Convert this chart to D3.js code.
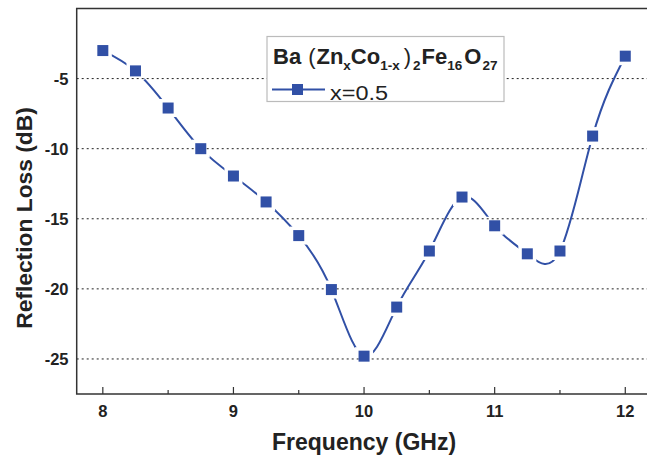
<!DOCTYPE html>
<html lang="en">
<head>
<meta charset="utf-8" />
<title>Reflection Loss</title>
<script src="https://cdnjs.cloudflare.com/ajax/libs/d3/7.8.5/d3.min.js"></script>
<style>
  body { margin: 0; background: #fff; }
  text { font-family: "Liberation Sans", Arial, sans-serif; }
</style>
</head>
<body>
<div id="chart"></div>
<script>
// data
var freq = [8, 8.25, 8.5, 8.75, 9, 9.25, 9.5, 9.75, 10, 10.25, 10.5, 10.75, 11, 11.25, 11.5, 11.75, 12];
var rl = [-3.0, -4.45, -7.1, -10.0, -11.95, -13.8, -16.2, -20.05, -24.8, -21.3, -17.3, -13.45, -15.5, -17.5, -17.3, -9.1, -3.4];
var xTicks = [8, 9, 10, 11, 12];
var xMinor = [8.5, 9.5, 10.5, 11.5];
var yTicks = [-5, -10, -15, -20, -25];
var seriesName = "x=0.5";
var blue = "#3150a6";

var W = 647, H = 461;
var svg = d3.select("#chart").append("svg")
    .attr("width", W).attr("height", H);

var x = d3.scaleLinear().domain([7.8, 12.2]).range([76.7, 651.4]);
var y = d3.scaleLinear().domain([0, -27.5]).range([8.5, 394]);

// dotted grid lines
svg.append("g").selectAll("line")
  .data(yTicks).enter().append("line")
    .attr("x1", x(7.8)).attr("x2", W)
    .attr("y1", function(d){ return y(d) }).attr("y2", function(d){ return y(d) })
    .attr("stroke", "#222").attr("stroke-width", 1)
    .attr("stroke-dasharray", "2,3");

// frame
svg.append("path")
  .attr("d", "M" + W + "," + y(0) + "H" + x(7.8) + "V" + y(-27.5) + "H" + W)
  .attr("fill", "none").attr("stroke", "#333").attr("stroke-width", 1.5);

// x axis ticks (inward)
var xAxis = svg.append("g").attr("transform", "translate(0," + y(-27.5) + ")");
xAxis.selectAll("line.major").data(xTicks).enter().append("line")
  .attr("x1", function(d){ return x(d) }).attr("x2", function(d){ return x(d) })
  .attr("y1", 0).attr("y2", -7).attr("stroke", "#333").attr("stroke-width", 1.2);
xAxis.selectAll("line.minor").data(xMinor).enter().append("line")
  .attr("x1", function(d){ return x(d) }).attr("x2", function(d){ return x(d) })
  .attr("y1", 0).attr("y2", -4).attr("stroke", "#333").attr("stroke-width", 1.2);
xAxis.selectAll("text").data(xTicks).enter().append("text")
  .attr("x", function(d){ return x(d) }).attr("y", 23)
  .attr("text-anchor", "middle").attr("font-size", 16.5).attr("font-weight", "bold")
  .attr("fill", "#222").text(function(d){ return d });

// y tick labels
svg.append("g").selectAll("text").data(yTicks).enter().append("text")
  .attr("x", 68.5).attr("y", function(d){ return y(d) + 6 })
  .attr("text-anchor", "end").attr("font-size", 16.5).attr("font-weight", "bold")
  .attr("fill", "#222").text(function(d){ return d });

// axis titles
svg.append("text").attr("x", x(10)).attr("y", 450)
  .attr("text-anchor", "middle").attr("font-size", 23).attr("font-weight", "bold")
  .attr("fill", "#222").text("Frequency (GHz)");
svg.append("text")
  .attr("transform", "translate(32,218) rotate(-90)")
  .attr("text-anchor", "middle").attr("font-size", 22.8).attr("font-weight", "bold")
  .attr("fill", "#222").text("Reflection Loss (dB)");

// line with gaps around the markers
var mask = svg.append("defs").append("mask").attr("id", "gaps");
mask.append("rect").attr("width", W).attr("height", H).attr("fill", "#fff");
mask.selectAll("rect.g").data(freq).enter().append("rect")
  .attr("x", function(d){ return x(d) - 9 }).attr("y", function(d, i){ return y(rl[i]) - 9 })
  .attr("width", 18).attr("height", 18).attr("fill", "#000");

var line = d3.line()
  .x(function(d, i){ return x(freq[i]) })
  .y(function(d, i){ return y(rl[i]) })
  .curve(d3.curveNatural);
svg.append("path").datum(rl)
  .attr("d", line).attr("fill", "none")
  .attr("stroke", blue).attr("stroke-width", 2)
  .attr("mask", "url(#gaps)");

svg.append("g").selectAll("rect").data(freq).enter().append("rect")
  .attr("x", function(d){ return x(d) - 5.5 }).attr("y", function(d, i){ return y(rl[i]) - 5.5 })
  .attr("width", 11).attr("height", 11).attr("fill", blue);

// legend
var lg = svg.append("g");
lg.append("rect").attr("x", 267).attr("y", 36.5).attr("width", 237).attr("height", 65)
  .attr("fill", "#fff").attr("stroke", "#bbb").attr("stroke-width", 1.2);
var title = lg.append("text").attr("x", 273).attr("y", 63.5)
  .attr("font-size", 22).attr("font-weight", "bold").attr("fill", "#222");
// [text, dy, size, weight, dx]
var parts = [
  ["Ba", 0, 22, "bold", 0], ["(", 0, 22, "normal", 7], ["Zn", 0, 22, "bold", 1],
  ["x", 6.5, 13.5, "bold", 0], ["Co", -6.5, 22, "bold", 0], ["1-x", 6.5, 13.5, "bold", 0],
  [")", -6.5, 22, "normal", 4], ["2", 6.5, 13.5, "bold", 2], ["Fe", -6.5, 22, "bold", 1],
  ["16", 6.5, 13.5, "bold", 0], ["O", -6.5, 22, "bold", 2], ["27", 6.5, 13.5, "bold", 1]
];
parts.forEach(function(p){
  title.append("tspan").attr("dy", p[1]).attr("dx", p[4])
    .attr("font-size", p[2]).attr("font-weight", p[3]).text(p[0]);
});
lg.append("line").attr("x1", 272).attr("x2", 325).attr("y1", 89.5).attr("y2", 89.5)
  .attr("stroke", blue).attr("stroke-width", 2);
lg.append("rect").attr("x", 292).attr("y", 84).attr("width", 11).attr("height", 11).attr("fill", blue);
lg.append("text").attr("x", 330).attr("y", 100).attr("font-size", 20)
  .attr("textLength", 58).attr("lengthAdjust", "spacingAndGlyphs")
  .attr("fill", "#222").text(seriesName);
</script>
</body>
</html>
